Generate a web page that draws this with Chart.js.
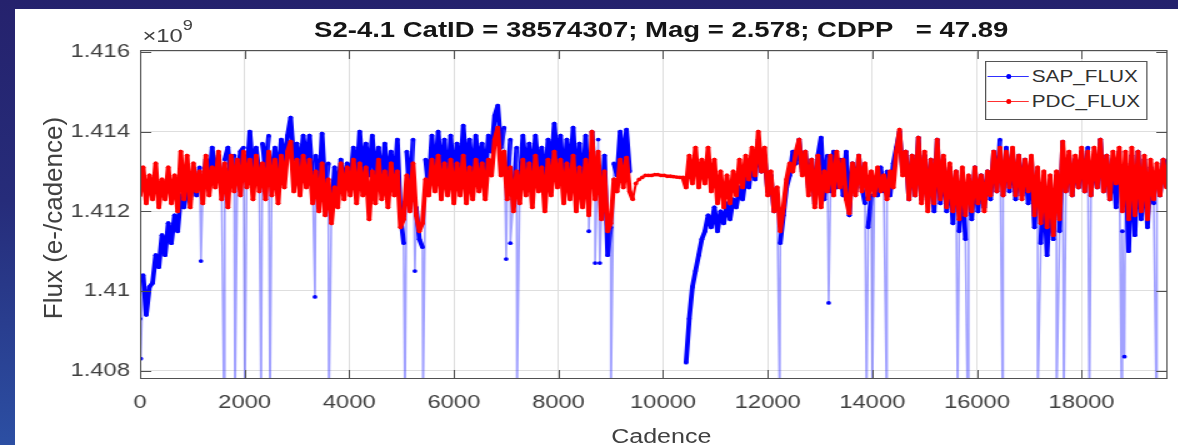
<!DOCTYPE html>
<html lang="en">
<head>
<meta charset="UTF-8">
<title>S2-4.1 light curve</title>
<style>
  html, body { margin: 0; padding: 0; }
  body { width: 1178px; height: 445px; overflow: hidden; position: relative;
         background: linear-gradient(to bottom, #25226d 0%, #262c7a 45%, #2c4fa3 100%);
         font-family: "Liberation Sans", Arial, sans-serif; }
  #panel { position: absolute; left: 15px; top: 9px; width: 1163px; height: 436px; background: #fff; }
  /* the original figure is stretched sideways, so the whole plot is too */
  #stretch { position: absolute; left: 15px; top: 9px; width: 930px; height: 436px;
             transform: scaleX(1.25); transform-origin: 0 0; }
  #stretch canvas { position: absolute; left: 0; top: 0; }
  .txt { position: absolute; white-space: pre; }
  #title { left: 217px; width: 600px; top: 10px; text-align: center; font-weight: bold;
           font-size: 22px; line-height: 22px; color: #151515; }
  #expo { left: 102px; top: 17px; font-size: 19px; line-height: 19px; color: #404040; }
  #expo span { font-size: 14.5px; position: relative; top: -12px; }
  #xlabel { left: 317px; width: 400px; top: 417px; text-align: center; font-size: 20px;
            line-height: 20px; color: #404040; }
  #legend { position: absolute; left: 776px; top: 52px; width: 130px; height: 59px;
            border: 1px solid #555; background: #fff; box-sizing: border-box; }
  #legend .row { position: absolute; left: -1px; width: 130px; height: 20px; }
  #legend .sw { position: absolute; left: 2px; top: 9.25px; width: 33.4px; height: 1.5px; }
  #legend .sw i { position: absolute; left: 14.5px; top: -1.5px; width: 4.5px; height: 4.5px; border-radius: 50%; }
  #legend .lab { position: absolute; left: 37.4px; top: 0; font-size: 16.6px; line-height: 20px; color: #303030; white-space: pre; }
  #ylabel { position: absolute; left: -77px; top: 205px; width: 260px; text-align: center;
            font-size: 26px; line-height: 26px; color: #404040; transform: rotate(-90deg); white-space: pre; }
</style>
<script src="https://cdn.jsdelivr.net/npm/chart.js"></script>
</head>
<body>
<div id="panel"></div>
<div id="stretch">
  <canvas id="curve" width="930" height="436"></canvas>
  <div id="title" class="txt">S2-4.1 CatID = 38574307; Mag = 2.578; CDPP   = 47.89</div>
  <div id="expo" class="txt">×10<span>9</span></div>
  <div id="xlabel" class="txt">Cadence</div>
  <div id="legend">
    <div class="row" style="top:4.7px"><span class="sw" style="background:#3030ff"><i style="background:#0000ff"></i></span><span class="lab">SAP_FLUX</span></div>
    <div class="row" style="top:29.7px"><span class="sw" style="background:#ff3030"><i style="background:#ff0000"></i></span><span class="lab">PDC_FLUX</span></div>
  </div>
</div>
<div id="ylabel">Flux (e-/cadence)</div>

<script>
  // flux in units of 1e6 e-/cadence, one sample every 60 cadences
  const cadenceStep = 60;

  const sapFlux = [
    1409.3,1410.4,1409.4,1410.1,1410.2,1410.9,1410.6,1411.4,1410.9,1411.7,
    1411.2,1411.9,1411.5,1412.4,1412.1,1412.6,1412.3,1412.9,1412.4,1413.1,
    1412.5,1413.3,1412.7,1413.6,1412.8,1413.4,1412.6,1413.3,1413.6,1412.7,
    1413.4,1412.8,1413.5,1413.6,1412.9,1414.0,1413.0,1413.6,1412.9,1413.7,
    1413.1,1413.9,1413.0,1413.6,1412.8,1413.8,1413.2,1413.9,1414.35,1413.3,
    1413.7,1413.0,1413.9,1413.2,1413.9,1412.8,1413.4,1412.3,1413.95,1412.5,
    1413.2,1412.0,1413.1,1412.4,1413.3,1412.6,1413.2,1412.7,1413.6,1412.8,
    1414.0,1413.0,1413.7,1412.9,1413.9,1412.8,1413.6,1412.6,1413.7,1412.7,
    1413.5,1412.6,1413.8,1411.9,1411.2,1413.5,1412.4,1413.8,1412.1,1411.3,
    1411.1,1413.3,1412.6,1413.9,1412.8,1414.0,1412.9,1413.8,1412.5,1413.9,
    1412.7,1413.7,1412.9,1414.15,1413.0,1413.8,1412.7,1413.9,1413.1,1413.7,
    1412.8,1413.9,1413.5,1414.4,1414.65,1413.6,1414.1,1412.6,1413.8,1412.3,
    1413.6,1412.7,1413.9,1412.9,1413.7,1412.8,1413.9,1413.0,1413.6,1412.6,
    1413.8,1413.1,1414.2,1413.2,1413.9,1412.7,1413.8,1412.9,1414.1,1412.6,
    1413.7,1412.4,1413.9,1412.2,1414.0,1412.5,1413.8,1411.9,1413.4,1410.9,
    1411.6,1413.2,1412.9,1414.0,1413.2,1414.05,1413.0,
    null,null,null,null,null,null,null,null,null,null,null,null,null,null,null,null,null,
    1408.2,1409.3,1410.1,1410.5,1410.9,1411.3,1411.5,1411.9,1411.6,1412.1,
    1411.5,1412.0,1411.7,1412.2,1411.8,1412.3,1412.1,1412.6,1412.3,1412.9,
    1412.6,1413.3,1412.8,1413.8,1413.0,1413.4,1412.5,1412.9,1412.0,1412.4,
    1411.2,1411.9,1412.6,1412.9,1413.5,1413.2,1413.8,1413.0,1413.5,1412.6,
    1413.3,1412.2,1413.4,1413.85,1412.3,1413.4,1412.5,1413.5,1412.6,1413.3,
    1412.4,1413.5,1411.9,1413.2,1412.5,1413.4,1412.6,1412.2,1411.6,1412.4,
    1412.8,1412.4,1413.1,1412.5,1413.0,1412.4,1413.2,1413.6,1414.0,1413.0,
    1413.5,1412.3,1413.4,1412.4,1413.85,1412.3,1413.4,1412.2,1413.3,1412.0,
    1413.8,1412.2,1413.3,1412.0,1413.1,1411.7,1413.0,1411.5,1412.9,1411.3,
    1412.8,1411.8,1413.1,1412.0,1412.9,1412.1,1413.0,1412.3,1413.5,1412.5,
    1413.8,1412.4,1413.6,1412.5,1413.5,1412.3,1413.4,1412.4,1413.3,1412.2,
    1413.3,1411.6,1413.0,1411.2,1412.8,1410.9,1412.6,1411.3,1412.9,1411.5,
    1413.75,1412.5,1413.4,1412.4,1413.3,1412.6,1413.5,1412.5,1413.6,1412.4,
    1413.4,1412.6,1413.8,1412.5,1413.4,1412.3,1413.3,1412.1,1413.5,1411.5,
    1413.2,1411.0,1413.4,1411.4,1413.5,1411.8,1413.3,1411.6,1413.1,1412.2,
    1413.0,1412.4,1413.3,1413.2
  ];

  const pdcFlux = [
    1412.4,1413.1,1412.2,1412.9,1412.3,1413.2,1412.1,1412.8,1412.3,1413.1,
    1412.2,1412.9,1412.0,1413.5,1412.3,1413.4,1412.1,1413.2,1412.5,1413.0,
    1412.2,1413.4,1412.4,1413.1,1412.6,1413.5,1412.3,1413.2,1412.1,1413.4,
    1412.5,1413.3,1412.4,1413.5,1412.6,1413.3,1412.3,1413.4,1412.5,1413.2,
    1412.3,1413.5,1412.4,1413.3,1412.2,1413.4,1412.6,1413.5,1413.75,1412.5,
    1413.3,1412.4,1413.4,1412.6,1413.3,1412.2,1413.0,1412.0,1413.2,1411.9,
    1412.8,1411.7,1412.6,1412.1,1413.2,1412.3,1413.1,1412.4,1413.3,1412.2,
    1413.2,1412.4,1413.1,1411.8,1413.0,1412.2,1413.3,1412.3,1413.0,1412.1,
    1413.2,1412.4,1413.0,1411.6,1411.8,1412.9,1412.0,1413.2,1411.9,1411.5,
    1411.7,1412.8,1412.4,1413.3,1412.5,1413.4,1412.3,1413.2,1412.4,1413.3,
    1412.2,1413.2,1412.4,1413.4,1412.2,1413.1,1412.3,1413.3,1412.5,1413.2,
    1412.3,1413.3,1412.9,1413.8,1414.1,1412.9,1413.5,1412.3,1413.1,1412.0,
    1413.0,1412.2,1413.3,1412.4,1413.2,1412.1,1413.4,1412.5,1413.1,1412.0,
    1413.3,1412.4,1413.5,1412.6,1413.3,1412.2,1413.2,1412.3,1413.4,1412.0,
    1413.1,1412.1,1413.3,1411.9,1414.0,1412.3,1413.5,1411.8,1413.0,1411.5,
    1411.7,1412.8,1412.5,1413.3,1412.6,1413.35,1412.5,
    1412.3,1412.7,1412.8,1412.85,1412.9,1412.9,1412.9,1412.92,1412.92,1412.9,
    1412.9,1412.88,1412.88,1412.87,1412.86,1412.85,1412.85,
    1412.6,1413.4,1412.7,1413.6,1412.6,1413.3,1412.7,1413.6,1412.5,1413.3,
    1412.2,1413.0,1412.1,1412.9,1412.2,1413.0,1412.4,1413.3,1412.6,1413.4,
    1412.8,1413.6,1412.9,1414.0,1413.0,1413.6,1412.4,1413.0,1412.0,1412.6,
    1411.5,1412.1,1412.8,1413.2,1413.0,1413.5,1413.8,1412.9,1413.5,1412.4,
    1413.3,1412.1,1413.4,1412.1,1413.0,1412.5,1413.4,1412.4,1413.5,1412.6,
    1413.3,1412.3,1411.95,1413.2,1412.4,1413.4,1412.5,1413.2,1412.3,1413.0,
    1412.4,1413.1,1412.5,1412.9,1412.3,1413.0,1412.6,1413.5,1414.05,1412.9,
    1413.5,1412.3,1413.4,1412.4,1413.85,1412.2,1413.5,1412.0,1413.3,1412.2,
    1413.8,1412.3,1413.4,1412.1,1413.2,1412.0,1413.0,1411.8,1413.1,1411.9,
    1412.9,1412.0,1413.1,1412.2,1412.9,1412.0,1413.0,1412.4,1413.5,1412.5,
    1413.6,1412.4,1413.5,1412.6,1413.6,1412.4,1413.4,1412.3,1413.3,1412.5,
    1413.4,1411.9,1413.1,1411.7,1413.0,1411.6,1412.9,1411.4,1413.0,1411.8,
    1413.75,1412.5,1413.5,1412.4,1413.4,1412.6,1413.6,1412.5,1413.5,1412.4,
    1413.6,1412.6,1413.8,1412.5,1413.4,1412.3,1413.5,1412.7,1413.6,1412.0,
    1413.5,1411.8,1413.6,1411.9,1413.5,1412.0,1413.4,1411.8,1413.3,1412.3,
    1413.2,1412.4,1413.3,1412.6
  ];

  // single-cadence drop-outs in SAP_FLUX (many fall below the axis)
  const dipCadence = [15, 1165, 1605, 1815, 2005, 2315, 2485, 3345, 3610, 5065,
                      5255, 5410, 7000, 7080, 7205, 8580, 8700, 8790, 9000, 12230,
                      13165, 13890, 14000, 14275, 15630, 15820, 16490, 17160, 17520, 17660,
                      18150, 18765, 18820, 19430];
  const dipFlux = [1408.3, 1410.75, 1407.0, 1407.0, 1407.0, 1407.0, 1407.0, 1409.85, 1407.0, 1407.0,
                   1410.5, 1407.0, 1410.8, 1411.2, 1407.0, 1411.5, 1410.7, 1410.7, 1407.0, 1407.0,
                   1409.7, 1407.0, 1407.0, 1407.0, 1407.0, 1407.0, 1407.0, 1407.0, 1407.0, 1407.0,
                   1407.0, 1407.0, 1408.35, 1407.0];

  const xTicks = [0, 2000, 4000, 6000, 8000, 10000, 12000, 14000, 16000, 18000];
  const yTicks = [1408, 1410, 1412, 1414, 1416];
  const xRange = [0, 19643];
  const yRange = [1407.79, 1416.05];

  const cadence = sapFlux.map((_, i) => i * cadenceStep);

  const sapPoints = cadence.map((c, i) => ({ x: c, y: sapFlux[i] }));
  dipCadence.forEach((c, k) => sapPoints.push({ x: c, y: dipFlux[k], dip: true }));
  sapPoints.sort((a, b) => a.x - b.x);
  const pdcPoints = cadence.map((c, i) => ({ x: c, y: pdcFlux[i] }));

  function isDipSeg(ctx) {
    return sapPoints[ctx.p0DataIndex].dip || sapPoints[ctx.p1DataIndex].dip;
  }
  // PDC is gap-filled where SAP has no data: drawn as a plain thin curve there
  function inGap(ctx) {
    return sapFlux[ctx.p0DataIndex] === null && sapFlux[ctx.p1DataIndex] === null;
  }

  // MATLAB style box with inward ticks
  const axisBox = {
    id: 'axisBox',
    afterDatasetsDraw(chart) {
      const { ctx, chartArea: a, scales: { x, y } } = chart;
      const len = 9;
      ctx.save();
      ctx.strokeStyle = '#505050';
      ctx.lineWidth = 1;
      ctx.beginPath();
      x.ticks.forEach(t => {
        const px = Math.round(x.getPixelForValue(t.value)) + 0.5;
        ctx.moveTo(px, a.bottom); ctx.lineTo(px, a.bottom - len);
        ctx.moveTo(px, a.top); ctx.lineTo(px, a.top + len);
      });
      y.ticks.forEach(t => {
        const py = Math.round(y.getPixelForValue(t.value)) + 0.5;
        ctx.moveTo(a.left, py); ctx.lineTo(a.left + len, py);
        ctx.moveTo(a.right, py); ctx.lineTo(a.right - len, py);
      });
      ctx.stroke();
      ctx.strokeRect(a.left + 0.5, a.top + 0.5, a.right - a.left - 1, a.bottom - a.top - 1);
      ctx.restore();
    }
  };

  Chart.defaults.font.family = '"Liberation Sans", Arial, sans-serif';

  new Chart(document.getElementById('curve'), {
    type: 'line',
    data: {
      datasets: [{
        label: 'SAP_FLUX',
        data: sapPoints,
        order: 1,
        borderColor: '#0000ff',
        borderWidth: 3.8,
        borderJoinStyle: 'round',
        pointRadius: 1.9,
        pointBorderWidth: 0,
        pointBackgroundColor: '#0000ff',
        spanGaps: false,
        segment: {
          borderColor: ctx => isDipSeg(ctx) ? 'rgba(70,70,255,0.5)' : undefined,
          borderWidth: ctx => isDipSeg(ctx) ? 1.6 : undefined
        }
      }, {
        label: 'PDC_FLUX',
        data: pdcPoints,
        order: 0,
        borderColor: '#ff0000',
        borderWidth: 3.8,
        borderJoinStyle: 'round',
        pointRadius: 1.9,
        pointBorderWidth: 0,
        pointBackgroundColor: '#ff0000',
        segment: {
          borderWidth: ctx => inGap(ctx) ? 2 : undefined
        }
      }]
    },
    options: {
      responsive: false,
      animation: false,
      events: [],
      layout: { padding: { top: 41, right: 8, bottom: 0, left: 0 } },
      plugins: { legend: { display: false }, tooltip: { enabled: false } },
      scales: {
        x: {
          type: 'linear',
          min: xRange[0], max: xRange[1],
          afterBuildTicks(s) { s.ticks = xTicks.map(v => ({ value: v })); },
          afterFit(s) { s.height = 66; },
          grid: { color: '#dedede', drawTicks: false },
          border: { display: false },
          ticks: { padding: 12, color: '#404040', font: { size: 19 }, maxRotation: 0, autoSkip: false,
                   callback: v => String(v) }
        },
        y: {
          min: yRange[0], max: yRange[1],
          afterBuildTicks(s) { s.ticks = yTicks.map(v => ({ value: v })); },
          afterFit(s) { s.width = 100; },
          grid: { color: '#dedede', drawTicks: false },
          border: { display: false },
          ticks: { padding: 8, color: '#404040', font: { size: 19 }, autoSkip: false,
                   callback: v => String(+(v / 1000).toFixed(3)) }
        }
      }
    },
    plugins: [axisBox]
  });
</script>
</body>
</html>
